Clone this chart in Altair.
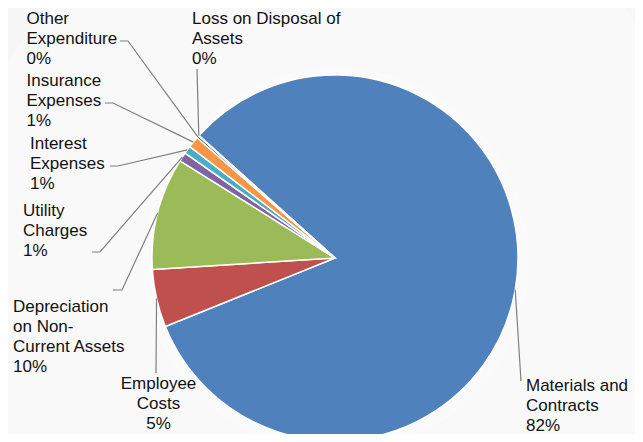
import math
import altair as alt
import pandas as pd

# ---------------- data ----------------
categories = [
    "Materials and Contracts",
    "Employee Costs",
    "Depreciation on Non-Current Assets",
    "Utility Charges",
    "Interest Expenses",
    "Insurance Expenses",
    "Other Expenditure",
    "Loss on Disposal of Assets",
]
shares = [82.1, 5.1, 9.9, 0.8, 0.7, 1.0, 0.2, 0.05]
label_lines = [
    ["Materials and", "Contracts"],
    ["Employee", "Costs"],
    ["Depreciation", "on Non-", "Current Assets"],
    ["Utility", "Charges"],
    ["Interest", "Expenses"],
    ["Insurance", "Expenses"],
    ["Other", "Expenditure"],
    ["Loss on Disposal of", "Assets"],
]

# ---------------- styles / layout ----------------
colors = ["#4F81BD", "#C0504D", "#9BBB59", "#8064A2", "#4BACC6", "#F79646", "#2C4D75", "#772C2A"]
W, H = 627, 426          # chart size (page px minus 8px margin)
OFF = 8                  # page margin
CX, CY, R = 335, 258, 183  # pie centre / radius in page px
START_DEG = 312.0

# label anchor (x, first baseline y, align) and leader-line bend points, page px
label_layout = [
    (526, 391, "left", [(521, 381)]),
    (158.5, 389, "center", [(156, 373)]),
    (13, 311.5, "left", [(113, 290), (122, 290)]),
    (23, 216, "left", [(92, 252), (100, 252)]),
    (30, 149, "left", [(110, 166), (118, 166)]),
    (26.5, 86, "left", [(105, 103), (113, 103)]),
    (26.5, 24, "left", [(120, 41), (128, 41)]),
    (192, 24, "left", [(197, 69)]),
]

total = sum(shares)
pcts = [f"{round(s / total * 100):d}%" for s in shares]

df = pd.DataFrame({
    "category": categories,
    "share": shares,
    "ord": list(range(len(categories))),
})

# mid angles -> edge points for the leader lines
cum = 0.0
line_rows = []
text_rows = []
for i, (cat, s) in enumerate(zip(categories, shares)):
    mid = math.radians(START_DEG + 360.0 * (cum + s / 2) / total)
    cum += s
    ex = CX + R * math.sin(mid)
    ey = CY - R * math.cos(mid)
    lx, ly, al, bends = label_layout[i]
    pts = bends + [(ex, ey)]
    for k, (px, py) in enumerate(pts):
        line_rows.append({"category": cat, "k": k, "x": px, "y": py})
    text_rows.append({
        "category": cat,
        "x": lx, "y": ly, "align": al,
        "text": "\n".join(label_lines[i] + [pcts[i]]),
    })
lines_df = pd.DataFrame(line_rows)
text_df = pd.DataFrame(text_rows)

xs = alt.Scale(domain=[OFF, OFF + W], range=[0, W])
ys = alt.Scale(domain=[OFF, OFF + H], range=[0, H])

start_rad = math.radians(START_DEG)

# soft shadow around pie
shadow_df = pd.DataFrame({"r": [R + 9, R + 7, R + 5, R + 3, R + 1.5], "o": [0.02, 0.025, 0.03, 0.035, 0.04]})
shadow = alt.Chart(shadow_df).mark_arc(theta=0, theta2=2 * math.pi, color="#000000").encode(
    radius=alt.Radius("r:Q", scale=None),
    opacity=alt.Opacity("o:Q", scale=None),
    x=alt.value(CX - OFF + 1),
    y=alt.value(CY - OFF + 2),
)

pie = alt.Chart(df).mark_arc(outerRadius=R, stroke="white", strokeWidth=1.5).encode(
    theta=alt.Theta("share:Q", stack=True,
                    scale=alt.Scale(domain=[0, total], range=[start_rad, start_rad + 2 * math.pi])),
    color=alt.Color("category:N", scale=alt.Scale(domain=categories, range=colors), legend=None),
    order=alt.Order("ord:Q"),
    x=alt.value(CX - OFF),
    y=alt.value(CY - OFF),
)

leaders = alt.Chart(lines_df).mark_line(color="#7F7F7F", strokeWidth=1.2).encode(
    x=alt.X("x:Q", scale=xs, axis=None),
    y=alt.Y("y:Q", scale=ys, axis=None),
    detail="category:N",
    order="k:Q",
)

def text_layer(align):
    return alt.Chart(text_df[text_df["align"] == align]).mark_text(
        align=align, baseline="alphabetic", lineBreak="\n", lineHeight=20,
        fontSize=17, font="Liberation Sans", color="#111111",
    ).encode(
        x=alt.X("x:Q", scale=xs, axis=None),
        y=alt.Y("y:Q", scale=ys, axis=None),
        text="text:N",
    )

chart = alt.layer(shadow, pie, leaders, text_layer("left"), text_layer("center")).properties(
    width=W, height=H,
    autosize=alt.AutoSizeParams(type="none"),
    padding=0,
    background="white",
).configure_view(stroke=None)

chart.save("out.html", embed_options={"renderer": "svg", "actions": False})
